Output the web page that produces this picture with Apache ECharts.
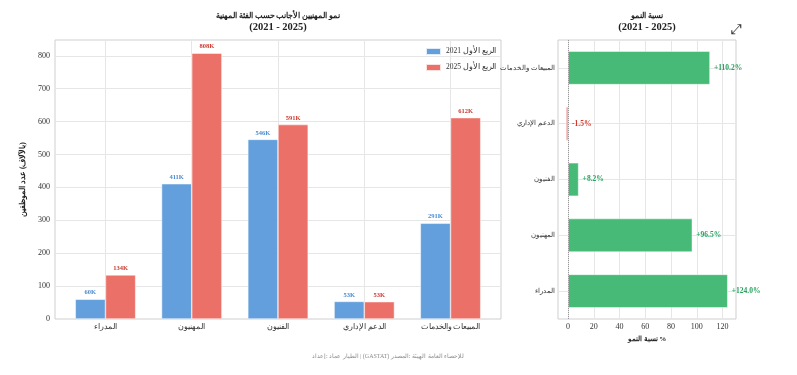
<!DOCTYPE html>
<html><head><meta charset="utf-8">
<script src="https://cdn.jsdelivr.net/npm/echarts@6/dist/echarts.min.js"></script>
<style>html,body{margin:0;padding:0;background:#fff}#c{width:797px;height:375px}</style>
</head><body><div id="c"></div>
<script>
// ---- data ----
const categories = ['المدراء', 'المهنيون', 'الفنيون', 'الدعم الإداري', 'المبيعات والخدمات'];
const q1_2021 = [60, 411, 546, 53.4, 291];      // thousands
const q1_2025 = [134, 808, 591, 52.6, 612];     // thousands
const growthPct = [124.0, 96.5, 8.2, -1.5, 110.2];
const countTicks = [0, 100, 200, 300, 400, 500, 600, 700, 800];
const growthTicks = [0, 20, 40, 60, 80, 100, 120];
const legendNames = ['2021 الربع الأول', '2025 الربع الأول'];
const leftTitle = 'نمو المهنيين الأجانب حسب الفئة المهنية';
const rightTitle = 'نسبة النمو';
const yearsSub = '(2021 - 2025)';
const yName = 'عدد الموظفين \u200E(بالآلاف)\u200E';
const xName = 'نسبة النمو %';
const footer = 'إعداد:\u200E عماد\u200E الطيار\u200E | (GASTAT) المصدر:\u200E الهيئة\u200E العامة\u200E للإحصاء';

// force left-to-right visual ordering of mixed text
const LTR = s => '\u202A' + s + '\u202C';

const FONT = "'Liberation Serif','DejaVu Serif',serif";
const C_BLUE = '#639FDC', C_RED = '#EB7067', C_GREEN = '#48BA78', C_NEG = '#E8554A';
const GRIDC = '#e6e6e6';

const catIdx = categories.map((_, i) => i);
const titleRich = {
  a: {fontSize: 7.6, fontWeight: 'bold', color: '#222', lineHeight: 12, fontFamily: FONT},
  b: {fontSize: 10.5, fontWeight: 'bold', color: '#222', lineHeight: 11, fontFamily: FONT}
};

const chart = echarts.init(document.getElementById('c'), null, {renderer: 'canvas'});
chart.setOption({
  animation: false,
  textStyle: {fontFamily: FONT},
  title: [
    {text: '{a|' + leftTitle + '}\n{b|' + yearsSub + '}', left: 278, top: 10, padding: 0, textAlign: 'center',
     textStyle: {rich: titleRich}},
    {text: '{a|' + rightTitle + '}\n{b|' + yearsSub + '}', left: 647, top: 10, padding: 0, textAlign: 'center',
     textStyle: {rich: titleRich}},
    {text: LTR(footer), left: 388, top: 353, padding: 0, textAlign: 'center',
     textStyle: {fontSize: 6, fontWeight: 'normal', color: '#8a8a8a', fontFamily: FONT}}
  ],
  legend: {
    orient: 'vertical', left: 425, top: 47, padding: 0,
    itemWidth: 15, itemHeight: 7, itemGap: 7, icon: 'rect',
    data: legendNames,
    formatter: n => LTR(n),
    textStyle: {fontSize: 7.5, color: '#333', fontFamily: FONT}
  },
  grid: [
    {left: 55, right: 296, top: 40, bottom: 56, show: true, borderColor: '#cfcfcf', borderWidth: 1},
    {left: 558, right: 61, top: 40, bottom: 56, show: true, borderColor: '#cfcfcf', borderWidth: 1}
  ],
  xAxis: [
    {gridIndex: 0, type: 'value', min: -0.585, max: 4.585,
     axisLine: {show: false}, axisTick: {show: false, customValues: catIdx},
     axisLabel: {customValues: catIdx, formatter: v => categories[Math.round(v)] || '', fontSize: 7.5, color: '#333', margin: 4},
     splitLine: {show: true, lineStyle: {color: GRIDC}}},
    {gridIndex: 1, type: 'value', min: -7.8, max: 130.4,
     axisLine: {show: false}, axisTick: {show: false, customValues: growthTicks},
     axisLabel: {customValues: growthTicks, fontSize: 8, color: '#333', margin: 4},
     splitLine: {show: true, lineStyle: {color: GRIDC}},
     name: LTR(xName), nameLocation: 'middle', nameGap: 13,
     nameTextStyle: {fontSize: 7, fontWeight: 'bold', color: '#222', fontFamily: FONT}}
  ],
  yAxis: [
    {gridIndex: 0, type: 'value', min: 0, max: 848,
     axisLine: {show: false}, axisTick: {show: false, customValues: countTicks},
     axisLabel: {customValues: countTicks, fontSize: 8, color: '#333', margin: 5},
     splitLine: {show: true, lineStyle: {color: GRIDC}},
     name: LTR(yName), nameLocation: 'middle', nameGap: 22, nameRotate: 90,
     nameTextStyle: {fontSize: 7.5, fontWeight: 'bold', color: '#222', fontFamily: FONT}},
    {gridIndex: 1, type: 'category', data: categories,
     axisLine: {show: false}, axisTick: {show: false, alignWithLabel: true},
     axisLabel: {fontSize: 6.8, color: '#333', margin: 3},
     splitLine: {show: true, alignWithLabel: true, lineStyle: {color: GRIDC}}}
  ],
  series: [
    {name: legendNames[0], type: 'bar', xAxisIndex: 0, yAxisIndex: 0,
     data: q1_2021.map((v, i) => [i, v]), barWidth: '35%', barGap: '0%',
     itemStyle: {color: C_BLUE, borderColor: 'rgba(255,255,255,0.8)', borderWidth: 0.6},
     label: {show: true, position: 'top', distance: 3, formatter: p => Math.round(p.value[1]) + 'K',
             fontSize: 6.5, fontWeight: 'bold', color: '#4A8AD0', fontFamily: FONT}},
    {name: legendNames[1], type: 'bar', xAxisIndex: 0, yAxisIndex: 0,
     data: q1_2025.map((v, i) => [i, v]), barWidth: '35%', barGap: '0%',
     itemStyle: {color: C_RED, borderColor: 'rgba(255,255,255,0.8)', borderWidth: 0.6},
     label: {show: true, position: 'top', distance: 3, formatter: p => Math.round(p.value[1]) + 'K',
             fontSize: 6.5, fontWeight: 'bold', color: '#C83A30', fontFamily: FONT}},
    {name: 'growth', type: 'bar', xAxisIndex: 1, yAxisIndex: 1, barWidth: '60%',
     data: growthPct.map(v => ({value: v,
        itemStyle: {color: v < 0 ? C_NEG : C_GREEN},
        label: {color: v < 0 ? '#D0392E' : '#27A35E'}})),
     itemStyle: {borderColor: 'rgba(255,255,255,0.8)', borderWidth: 0.6},
     label: {show: true, position: 'right', distance: 4,
             formatter: p => (p.value > 0 ? '+' : '') + p.value.toFixed(1) + '%',
             fontSize: 7.5, fontWeight: 'bold', fontFamily: FONT},
     markLine: {silent: true, symbol: 'none', label: {show: false},
                lineStyle: {color: '#999', type: 'dotted', width: 1},
                data: [{xAxis: 0}]}}
  ],
  graphic: [
    {type: 'text', left: 731, top: 23, style: {text: '⤢', fontSize: 14, fill: '#333', fontFamily: 'DejaVu Sans'}}
  ]
});
</script></body></html>
